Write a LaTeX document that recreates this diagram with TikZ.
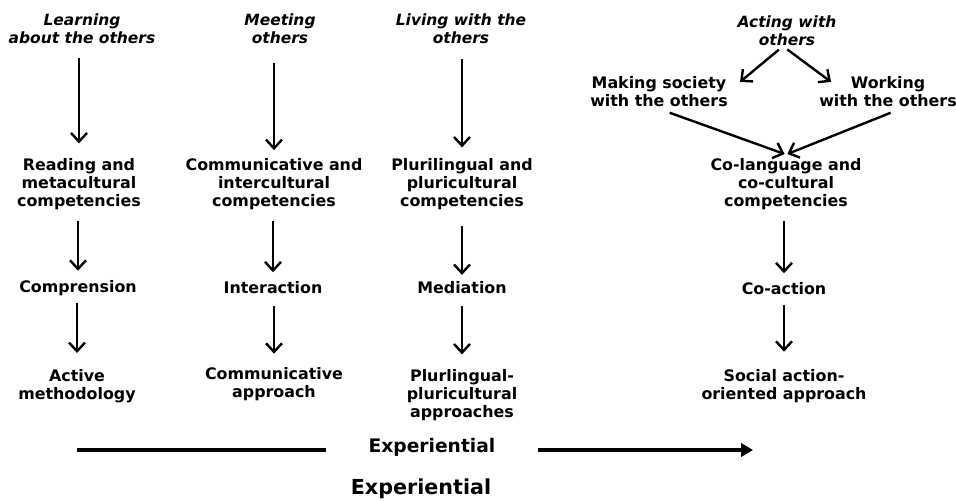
\documentclass[tikz,border=0pt]{standalone}
\usepackage{fontspec}
\setmainfont{DejaVu Sans}
\usetikzlibrary{arrows.meta}

\tikzset{
  lbl/.style={align=center, inner sep=0pt, font=\fontsize{11.9}{13.5}\selectfont\bfseries},
  head/.style={lbl, font=\fontsize{11.6}{13.5}\selectfont\bfseries\itshape},
  arr/.style={line width=1.8pt, -{Straight Barb[length=6.5pt,width=12pt]}},
  bigline/.style={line width=2.6pt}
}

\begin{document}
\begin{tikzpicture}[x=0.75pt, y=-0.75pt]
\useasboundingbox (0,0) rectangle (956,500);
% heads
\node[head] (h1) at (82,29) {Learning\\about the others};
\node[head] (h2) at (280,29) {Meeting\\others};
\node[head] (h3) at (461,29) {Living with the\\others};
\node[head] (h4) at (787,31) {Acting with\\others};
\node[lbl] (m4) at (659,92) {Making society\\with the others};
\node[lbl] (w4) at (888,92) {Working\\with the others};
% competencies
\node[lbl] (c1) at (79,184) {Reading and\\metacultural\\competencies};
\node[lbl] (c2) at (274,184) {Communicative and\\intercultural\\competencies};
\node[lbl] (c3) at (462,184) {Plurilingual and\\pluricultural\\competencies};
\node[lbl] (c4) at (786,184) {Co-language and\\co-cultural\\competencies};
% activities
\node[lbl] (r1) at (78,288) {Comprension};
\node[lbl] (r2) at (273,288) {Interaction};
\node[lbl] (r3) at (462,288) {Mediation};
\node[lbl] (r4) at (784,289) {Co-action};
% approaches
\node[lbl] (a1) at (77,386) {Active\\methodology};
\node[lbl] (a2) at (274,384) {Communicative\\approach};
\node[lbl] (a3) at (462,395) {Plurlingual-\\pluricultural\\approaches};
\node[lbl] (a4) at (784,386) {Social action-\\oriented approach};
% experiential
\node[font=\fontsize{14}{16}\selectfont\bfseries, inner sep=0pt] (xm) at (432,447) {Experiential};
\node[font=\fontsize{15.5}{18}\selectfont\bfseries, inner sep=0pt] (xb) at (421,489) {Experiential};
\coordinate (xs) at (77,450);
\coordinate (xe) at (753,450);

\draw[arr, shorten <=10pt, shorten >=11pt] (h1.south -| c1) -- (c1.north);
\draw[arr, shorten <=14pt, shorten >=6pt] (h2.south -| c2) -- (c2.north);
\draw[arr, shorten <=11pt, shorten >=8pt] (h3.south -| c3) -- (c3.north);
\draw[arr, shorten <=4pt] ([xshift=-3pt]h4.south) -- ([xshift=9pt,yshift=-4pt]m4.north east);
\draw[arr, shorten <=4pt] ([xshift=-3pt]h4.south) -- ([xshift=9pt,yshift=-4pt]w4.north west);
\draw[arr] ([xshift=8pt,yshift=-4pt]m4.south) -- ([xshift=-1pt,yshift=3pt]c4.north);
\draw[arr] ([xshift=2pt,yshift=-4pt]w4.south) -- ([xshift=1pt,yshift=3pt]c4.north);

\draw[arr, shorten <=8pt, shorten >=7pt] (c1.south -| r1) -- (r1.north);
\draw[arr, shorten <=8pt, shorten >=7pt] (c2.south -| r2) -- (r2.north);
\draw[arr, shorten <=12pt, shorten >=5pt] (c3.south -| r3) -- (r3.north);
\draw[arr, shorten <=8pt, shorten >=7pt] (c4.south -| r4) -- (r4.north);

\draw[arr, shorten <=5pt, shorten >=12pt] (r1.south -| a1) -- (a1.north);
\draw[arr, shorten <=9pt, shorten >=10pt] (r2.south -| a2) -- (a2.north);
\draw[arr, shorten <=9pt, shorten >=11pt] (r3.south -| a3) -- (a3.north);
\draw[arr, shorten <=7pt, shorten >=13pt] (r4.south -| a4) -- (a4.north);

\draw[bigline] (xs) -- ([xshift=-32pt]xm.west |- xs);
\draw[bigline, -{Triangle[length=9pt,width=10pt]}] ([xshift=32pt]xm.east |- xe) -- (xe);
\end{tikzpicture}
\end{document}
